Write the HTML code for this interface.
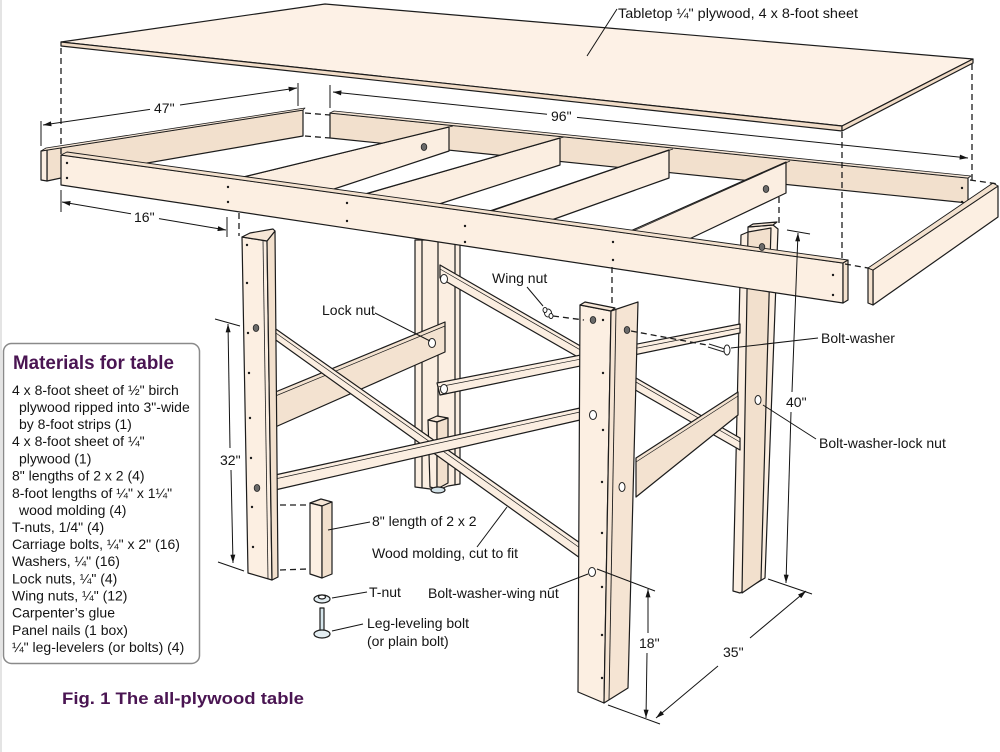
<!DOCTYPE html>
<html><head><meta charset="utf-8">
<style>
html,body{margin:0;padding:0;background:#fff;}
svg{display:block;}
text{font-family:"Liberation Sans",sans-serif;fill:#141414;}
</style></head><body>
<svg width="1000" height="752" viewBox="0 0 1000 752" xmlns="http://www.w3.org/2000/svg">
<defs>
<marker id="ah" viewBox="0 0 10 6" refX="10" refY="3" markerWidth="9" markerHeight="5" markerUnits="userSpaceOnUse" orient="auto">
<path d="M0,0 L10,3 L0,6 Z" fill="#141414"/></marker>
</defs>
<rect x="0" y="0" width="1000" height="752" fill="#fff"/>
<rect x="0" y="0" width="2" height="752" fill="#e4e4e4"/>

<g stroke="#1c1c1c" stroke-width="1.2" stroke-linejoin="round">
 <!-- tabletop -->
 <polygon points="61,42 325,4 973,59 842,126" fill="#fdf1e6"/>
 <polygon points="61,42 842,126 842,131 61,46" fill="#f1dcc7"/>
 <polygon points="842,126 973,59 973,63 842,131" fill="#f1dcc7"/>

 <!-- back rail -->
 <polygon points="330,113 968,178 968,203 330,138" fill="#f2e0cd"/>
 <polygon points="330,113 334,111 971,176 968,178" fill="#f6e6d6" stroke-width="0.8"/>
 <!-- left rail -->
 <polygon points="47,150 303,110 303,136 61,178 47,181" fill="#f2e0cd"/>
 <polygon points="41,151 47,150 47,181 41,180" fill="#fbeee1"/>
 <polygon points="41,151 46,148 305,108 303,110 47,150" fill="#f6e6d6" stroke-width="0.8"/>

 <!-- joists -->
 <polygon points="449,127 449,151 325,192 235,179" fill="#fbeee1"/>
 <polygon points="560,138 560,165 433,206 358,196" fill="#fbeee1"/>
 <polygon points="669,150 669,178 546,222 484,213" fill="#fbeee1"/>
 <polygon points="786,162 786,193 685,241 626,233" fill="#fbeee1"/>
 <g stroke-width="0.7">
  <line x1="453" y1="126" x2="240" y2="178"/>
  <line x1="564" y1="137" x2="363" y2="195"/>
  <line x1="673" y1="149" x2="489" y2="212"/>
  <line x1="790" y1="161" x2="631" y2="232"/>
 </g>

 <!-- leg B -->
 <polygon points="415,240 460,240 460,484 448,486 438,490 415,487" fill="#fbeee1"/>
 <line x1="422" y1="240" x2="422" y2="488"/>
 <line x1="438" y1="240" x2="438" y2="490"/>
 <line x1="455" y1="240" x2="455" y2="485"/>
 <!-- leg D -->
 <polygon points="741,235 748,232 748,227 773,225 778,229 765,578 740,593 733,591" fill="#fbeee1"/>
 <polygon points="748,232 771,228 761,580 742,593" fill="#f2e0cd"/>
 <polygon points="748,227 753,224 777,222 773,225" fill="#f6e6d6"/>

 <!-- back X braces -->
 <polygon points="440,265 740,438 740,450 440,278" fill="#fbeee1"/>
 <line x1="440" y1="269" x2="740" y2="442" stroke-width="0.7"/>
 <polygon points="437,383 740,324 740,333 440,395" fill="#fbeee1"/>
 <line x1="438" y1="387" x2="740" y2="328" stroke-width="0.7"/>

 <!-- wide side braces -->
 <polygon points="273,393 445,322 445,352 273,428" fill="#f3e2d0"/>
 <line x1="273" y1="397" x2="445" y2="326" stroke-width="0.7"/>
 <polygon points="636,458 738,392 738,415 636,497" fill="#f3e2d0"/>
 <line x1="636" y1="462" x2="738" y2="396" stroke-width="0.7"/>

 <!-- leg B 2x2 block -->
 <polygon points="428,420 437,416 448,418 437,422" fill="#f6e6d6"/>
 <polygon points="428,420 437,422 437,489 430,487" fill="#fbeee1"/>
 <polygon points="437,422 448,418 448,483 437,489" fill="#f2e0cd"/>
 <ellipse cx="438" cy="490" rx="7" ry="3" fill="#d3e2e8"/>

 <!-- front X braces -->
 <polygon points="273,327 580,543 580,558 273,338" fill="#fbeee1"/>
 <line x1="273" y1="331" x2="580" y2="548" stroke-width="0.7"/>
 <polygon points="275,475 580,408 580,420 275,490" fill="#fbeee1"/>
 <line x1="275" y1="479" x2="580" y2="412" stroke-width="0.7"/>

 <!-- leg A -->
 <polygon points="242,237 267,241 272,580 248,573" fill="#fcefe2"/>
 <polygon points="267,241 275,231 278,577 272,580" fill="#f2e0cd"/>
 <polygon points="242,237 250,233 273,229 275,231 267,241" fill="#f6e6d6"/>
 <line x1="263" y1="240" x2="268" y2="579" stroke-width="0.8"/>

 <!-- leg C -->
 <polygon points="580,305 611,311 604,703 578,692" fill="#fcefe2"/>
 <polygon points="611,311 638,302 628,688 604,703" fill="#f5e4d3"/>
 <polygon points="580,305 585,302 615,308 611,311" fill="#f6e6d6"/>
 <line x1="616" y1="309" x2="609" y2="700" stroke-width="0.9"/>

 <!-- front rail -->
 <polygon points="61,155 843,263 843,303 61,185" fill="#fcefe2"/>
 <polygon points="61,155 67,152 848,260 843,263" fill="#f3e1ce" stroke-width="0.9"/>
 <polygon points="843,263 848,260 848,300 843,303" fill="#f3e1ce"/>

 <!-- right end rail -->
 <polygon points="873,270 998,186 998,217 873,305" fill="#fcefe2"/>
 <polygon points="868,268 873,270 873,305 868,303" fill="#f3e1ce"/>
 <polygon points="868,268 993,183 998,186 873,270" fill="#f3e1ce" stroke-width="0.9"/>

 <!-- leg A 2x2 block -->
 <polygon points="310,503 321,499 332,502 322,506" fill="#f6e6d6"/>
 <polygon points="310,503 322,506 322,578 310,574" fill="#fcefe2"/>
 <polygon points="322,506 332,502 332,574 322,578" fill="#f2e0cd"/>

 <!-- T-nut and leveling bolt -->
 <ellipse cx="322" cy="599" rx="8" ry="4" fill="#e3edf1"/>
 <ellipse cx="322" cy="597" rx="3.5" ry="2" fill="#fff"/>
 <rect x="320" y="608" width="4" height="24" fill="#d6e6ec"/>
 <ellipse cx="322" cy="634" rx="8" ry="4" fill="#e3edf1"/>
</g>

<!-- holes (dark) -->
<g fill="#6a6a6a" stroke="#222" stroke-width="0.8">
 <ellipse cx="424" cy="147" rx="2.8" ry="3.5"/>
 <ellipse cx="766" cy="189" rx="2.8" ry="3.5"/>
 <ellipse cx="762" cy="247" rx="2.8" ry="3.5"/>
 <ellipse cx="256" cy="328" rx="2.8" ry="3.5"/>
 <ellipse cx="257" cy="488" rx="2.8" ry="3.5"/>
 <ellipse cx="593" cy="320" rx="2.8" ry="3.5"/>
 <ellipse cx="627" cy="330" rx="2.8" ry="3.5"/>
</g>
<!-- nuts (outlined) -->
<g fill="#fff" stroke="#222" stroke-width="1">
 <ellipse cx="444" cy="279" rx="3.5" ry="4.5"/>
 <ellipse cx="444" cy="389" rx="3.5" ry="4.5"/>
 <ellipse cx="432" cy="343" rx="3.5" ry="4.5"/>
 <ellipse cx="593" cy="415" rx="3.5" ry="4.5"/>
 <ellipse cx="622" cy="487" rx="3" ry="4.5"/>
 <ellipse cx="592" cy="572" rx="3.5" ry="4.5"/>
 <ellipse cx="758" cy="400" rx="3" ry="4.5"/>
 <ellipse cx="548" cy="313" rx="3.5" ry="4"/>
 <ellipse cx="545" cy="310" rx="2" ry="2.5"/>
 <ellipse cx="551" cy="316" rx="2" ry="2.5"/>
 <line x1="709" y1="344" x2="725" y2="349"/>
 <line x1="708" y1="347" x2="724" y2="352"/>
 <ellipse cx="727" cy="350" rx="3" ry="5"/>
</g>

<!-- nail dots -->
<g fill="#1a1a1a">
 <circle cx="67" cy="163" r="1.2"/><circle cx="67" cy="178" r="1.2"/>
 <circle cx="228" cy="187" r="1.2"/><circle cx="228" cy="202" r="1.2"/>
 <circle cx="347" cy="203" r="1.2"/><circle cx="347" cy="221" r="1.2"/>
 <circle cx="465" cy="226" r="1.2"/><circle cx="465" cy="242" r="1.2"/>
 <circle cx="613" cy="242" r="1.2"/><circle cx="613" cy="260" r="1.2"/>
 <circle cx="833" cy="275" r="1.2"/><circle cx="833" cy="295" r="1.2"/>
 <circle cx="962" cy="188" r="1.2"/><circle cx="962" cy="202" r="1.2"/>
 <circle cx="247" cy="245" r="1.2"/><circle cx="247" cy="283" r="1.2"/>
 <circle cx="248" cy="333" r="1.2"/><circle cx="249" cy="373" r="1.2"/>
 <circle cx="250" cy="418" r="1.2"/><circle cx="251" cy="458" r="1.2"/>
 <circle cx="252" cy="507" r="1.2"/><circle cx="253" cy="547" r="1.2"/>
 <circle cx="603" cy="320" r="1.2"/><circle cx="603" cy="373" r="1.2"/>
 <circle cx="603" cy="430" r="1.2"/><circle cx="602" cy="482" r="1.2"/>
 <circle cx="602" cy="533" r="1.2"/><circle cx="602" cy="587" r="1.2"/>
 <circle cx="602" cy="635" r="1.2"/><circle cx="602" cy="678" r="1.2"/>
</g>

<!-- dashed lines -->
<g stroke="#1c1c1c" stroke-width="1.3" stroke-dasharray="6,4" fill="none">
 <line x1="61" y1="48" x2="61" y2="155"/>
 <line x1="842" y1="132" x2="842" y2="262"/>
 <line x1="972" y1="64" x2="972" y2="180"/>
 <line x1="305" y1="113" x2="330" y2="115"/>
 <line x1="305" y1="136" x2="330" y2="138"/>
 <line x1="845" y1="264" x2="868" y2="268"/>
 <line x1="970" y1="180" x2="998" y2="184"/>
 <line x1="239" y1="213" x2="239" y2="236"/>
 <line x1="612" y1="267" x2="612" y2="303"/>
 <line x1="779" y1="197" x2="779" y2="227"/>
 <line x1="280" y1="505" x2="308" y2="505"/>
 <line x1="280" y1="570" x2="308" y2="569"/>
 <line x1="553" y1="316" x2="584" y2="320"/>
 <line x1="631" y1="331" x2="707" y2="345"/>
</g>

<!-- dimension & leader lines -->
<g stroke="#141414" stroke-width="1" fill="none">
 <line x1="41" y1="121" x2="41" y2="146"/>
 <line x1="298" y1="83" x2="298" y2="106"/>
 <line x1="150" y1="109.4" x2="43" y2="125" marker-end="url(#ah)"/>
 <line x1="180" y1="105" x2="297" y2="88" marker-end="url(#ah)"/>
 <line x1="330" y1="85" x2="330" y2="108"/>
 <line x1="547" y1="114.3" x2="333" y2="92" marker-end="url(#ah)"/>
 <line x1="577" y1="117.4" x2="968" y2="158" marker-end="url(#ah)"/>
 <line x1="61" y1="190" x2="61" y2="212"/>
 <line x1="227" y1="217" x2="227" y2="237"/>
 <line x1="131" y1="213.8" x2="62" y2="202" marker-end="url(#ah)"/>
 <line x1="159" y1="218.6" x2="226" y2="230" marker-end="url(#ah)"/>
 <line x1="215" y1="319" x2="240" y2="326"/>
 <line x1="218" y1="562" x2="244" y2="571"/>
 <line x1="230" y1="448" x2="228" y2="324" marker-end="url(#ah)"/>
 <line x1="231" y1="470" x2="233" y2="563" marker-end="url(#ah)"/>
 <line x1="787" y1="230" x2="810" y2="234"/>
 <line x1="768" y1="579" x2="812" y2="594"/>
 <line x1="792" y1="392" x2="798" y2="233" marker-end="url(#ah)"/>
 <line x1="791" y1="412" x2="786" y2="583" marker-end="url(#ah)"/>
 <line x1="597" y1="569" x2="655" y2="591"/>
 <line x1="608" y1="705" x2="660" y2="724"/>
 <line x1="648" y1="633" x2="648" y2="589" marker-end="url(#ah)"/>
 <line x1="647" y1="653" x2="646" y2="718" marker-end="url(#ah)"/>
 <line x1="750" y1="638" x2="806" y2="591" marker-end="url(#ah)"/>
 <line x1="718" y1="666" x2="656" y2="718" marker-end="url(#ah)"/>
 <line x1="617" y1="9" x2="587" y2="56"/>
 <line x1="527" y1="287" x2="543" y2="306"/>
 <line x1="375" y1="313" x2="430" y2="341"/>
 <line x1="818" y1="338" x2="731" y2="348"/>
 <line x1="763" y1="405" x2="816" y2="439"/>
 <line x1="370" y1="522" x2="328" y2="530"/>
 <line x1="477" y1="547" x2="507" y2="507"/>
 <line x1="367" y1="592" x2="332" y2="598"/>
 <line x1="363" y1="624" x2="332" y2="631"/>
 <line x1="549" y1="589" x2="588" y2="574"/>
</g>

<!-- labels -->
<g font-size="14">
 <text x="618" y="18" textLength="240" lengthAdjust="spacingAndGlyphs">Tabletop ¼" plywood, 4 x 8-foot sheet</text>
 <text x="154" y="113">47"</text>
 <text x="551" y="121">96"</text>
 <text x="134" y="222">16"</text>
 <text x="220" y="465">32"</text>
 <text x="786" y="407">40"</text>
 <text x="639" y="648">18"</text>
 <text x="723" y="657">35"</text>
 <text x="492" y="283">Wing nut</text>
 <text x="322" y="315">Lock nut</text>
 <text x="821" y="343">Bolt-washer</text>
 <text x="819" y="448">Bolt-washer-lock nut</text>
 <text x="372" y="526">8" length of 2 x 2</text>
 <text x="372" y="558">Wood molding, cut to fit</text>
 <text x="369" y="597">T-nut</text>
 <text x="428" y="598">Bolt-washer-wing nut</text>
 <text x="367" y="628">Leg-leveling bolt</text>
 <text x="367" y="646">(or plain bolt)</text>
</g>

<!-- materials box -->
<rect x="3.5" y="343.5" width="196" height="320" rx="8" ry="8" fill="#fff" stroke="#8a8a8a" stroke-width="1.5"/>
<text x="13" y="369" font-size="19" font-weight="bold" style="fill:#4a1552" textLength="161" lengthAdjust="spacingAndGlyphs">Materials for table</text>
<g font-size="14">
 <text x="12" y="395">4 x 8-foot sheet of ½" birch</text>
 <text x="19" y="412">plywood ripped into 3"-wide</text>
 <text x="19" y="429">by 8-foot strips (1)</text>
 <text x="12" y="446">4 x 8-foot sheet of ¼"</text>
 <text x="19" y="463.5">plywood (1)</text>
 <text x="12" y="480.6">8" lengths of 2 x 2 (4)</text>
 <text x="12" y="497.8">8-foot lengths of ¼" x 1¼"</text>
 <text x="19" y="514.9">wood molding (4)</text>
 <text x="12" y="532">T-nuts, 1/4" (4)</text>
 <text x="12" y="549">Carriage bolts, ¼" x 2" (16)</text>
 <text x="12" y="566">Washers, ¼" (16)</text>
 <text x="12" y="583.4">Lock nuts, ¼" (4)</text>
 <text x="12" y="600.5">Wing nuts, ¼" (12)</text>
 <text x="12" y="617.7">Carpenter’s glue</text>
 <text x="12" y="634.8">Panel nails (1 box)</text>
 <text x="12" y="652">¼" leg-levelers (or  bolts) (4)</text>
</g>
<text x="62" y="704" font-size="17" font-weight="bold" style="fill:#4a1552" textLength="242" lengthAdjust="spacingAndGlyphs">Fig. 1 The all-plywood table</text>
</svg>
</body></html>
